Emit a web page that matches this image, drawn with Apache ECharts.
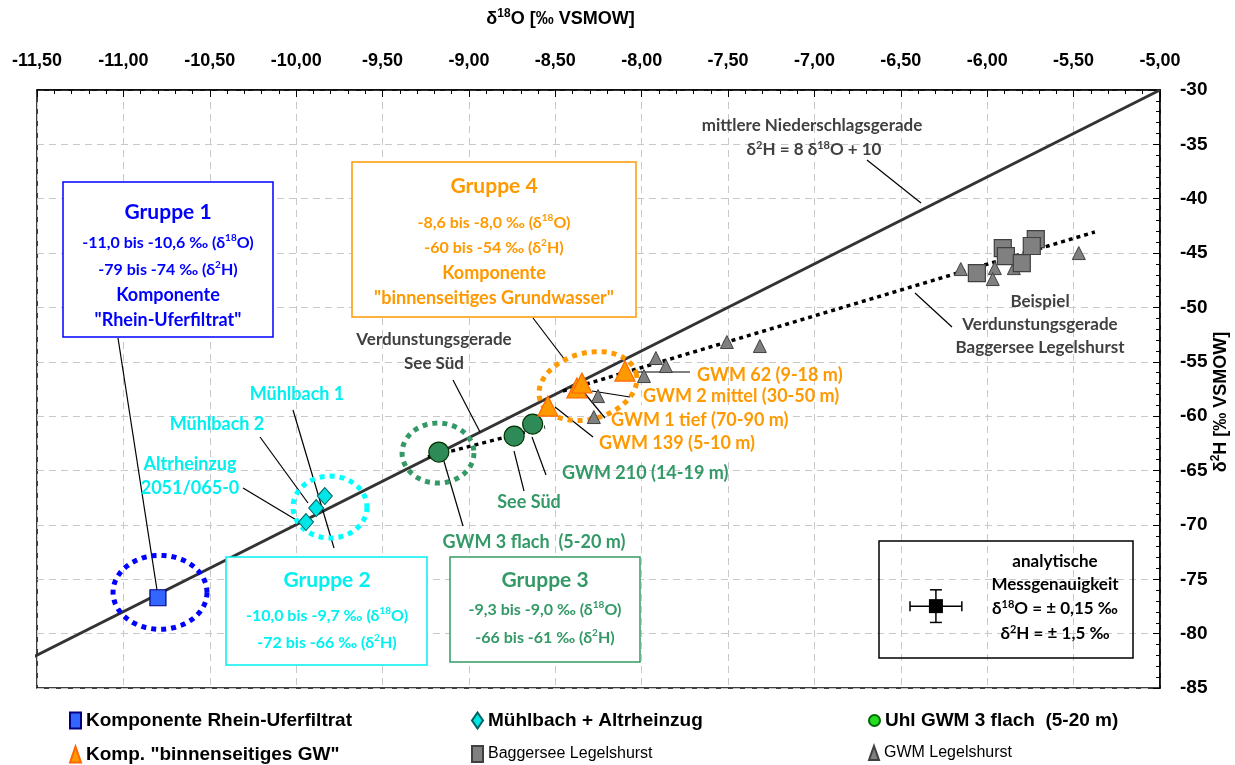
<!DOCTYPE html>
<html>
<head>
<meta charset="utf-8">
<script src="https://cdn.jsdelivr.net/npm/echarts@6/dist/echarts.min.js"></script>
<style>
  html, body { margin: 0; background: #fff; }
  #chart { width: 1235px; height: 765px; }
</style>
</head>
<body>
<div id="chart"></div>
<script>
var chart = echarts.init(document.getElementById('chart'));

var rheinUferfiltrat = [[-10.80, -76.7]];
var muehlbach = [[-9.943, -69.74], [-9.884, -68.45], [-9.834, -67.35]];
var gwm3flach = [[-9.174, -63.30], [-8.738, -61.83], [-8.631, -60.73]];
var binnenGW = [[-8.543, -59.07], [-8.375, -57.41], [-8.346, -56.95], [-8.097, -55.85]];
var baggersee = [[-6.060, -46.84], [-5.910, -44.54], [-5.892, -45.27], [-5.800, -45.92], [-5.719, -43.71], [-5.742, -44.35]];
var gwmLegelshurst = [
  [-8.253, -58.15], [-8.277, -60.08], [-7.987, -56.31], [-7.918, -54.65], [-7.860, -55.39],
  [-7.507, -53.18], [-7.316, -53.55], [-6.153, -46.47], [-5.956, -46.38], [-5.968, -47.39],
  [-5.846, -46.38], [-5.470, -45.0]
];
// lines
var niederschlagsgerade = [[-11.54, -82.3], [-5.0, -30.0]];
var verdunstungSeeSued = [[-9.237, -63.76], [-8.560, -61.0]];
var verdunstungBaggersee = [[-8.456, -57.69], [-5.377, -43.06]];
// analytical accuracy: x, y, ±δ18O, ±δ2H
var messgenauigkeit = [[-6.297, -77.47, 0.15, 1.5]];
// group ellipses: centre δ18O, centre δ2H, half width, half height
var gruppenEllipsen = [[-10.788, -76.2, 0.272, 3.4], [-9.804, -68.36, 0.214, 2.85], [-9.179, -63.39, 0.208, 2.76], [-8.311, -57.23, 0.289, 3.04]];

var ELLIPSE_COLORS = ['#0000ff', '#00ffff', '#339966', '#ff9900'];
var ELLIPSE_TILT = [0, 0, 0, -15];

var AX_FONT = 'Arial, "Liberation Sans", sans-serif';
var CAL = 'Lato, "Open Sans", sans-serif';

function sup(color, font, size) {
  return { fontSize: size || 11, fontWeight: 'bold', fontFamily: font || CAL, color: color, fill: color, padding: [0, 0, 10, 0] };
}

function txt(x, y, text, color, size, align, extra) {
  var st = {
    x: x, y: y, text: text, fill: color,
    font: 'bold ' + size + 'px ' + CAL,
    align: align || 'center', verticalAlign: 'middle',
    rich: { s: sup(color, CAL, Math.round(size * 0.65)) }
  };
  if (extra) Object.assign(st, extra);
  return { type: 'text', z: 5, style: st };
}
function lead(x1, y1, x2, y2) {
  return { type: 'line', z: 4, shape: { x1: x1, y1: y1, x2: x2, y2: y2 }, style: { stroke: '#000', lineWidth: 1.2 } };
}
function box(x1, y1, x2, y2, color, fill) {
  return { type: 'rect', z: 3, shape: { x: x1, y: y1, width: x2 - x1, height: y2 - y1 },
    style: { stroke: color, lineWidth: 1.5, fill: fill } };
}

var DG = '#404040', OR = '#ff9900', GR = '#339966', CY = '#00f0f0', BL = '#0000ff';

var graphics = [
  // group boxes
  box(63, 182, 273, 337, BL, '#fff'),
  txt(168, 212, 'Gruppe 1', BL, 21),
  txt(168, 243, '-11,0 bis -10,6 ‰ (δ{s|18}O)', BL, 16),
  txt(168, 270, '-79 bis -74 ‰ (δ{s|2}H)', BL, 16),
  txt(168, 295, 'Komponente', BL, 18),
  txt(168, 320, '"Rhein-Uferfiltrat"', BL, 18),
  box(352, 162, 636, 317, OR, '#fff'),
  txt(494, 186, 'Gruppe 4', OR, 21),
  txt(494, 223, '-8,6 bis -8,0 ‰ (δ{s|18}O)', OR, 16),
  txt(494, 248, '-60 bis -54 ‰ (δ{s|2}H)', OR, 16),
  txt(494, 273, 'Komponente', OR, 18),
  txt(494, 298, '"binnenseitiges Grundwasser"', OR, 18),
  box(226, 557, 427, 665, CY, '#fff'),
  txt(327, 580, 'Gruppe 2', CY, 21),
  txt(327, 616, '-10,0 bis -9,7 ‰ (δ{s|18}O)', CY, 16),
  txt(327, 643, '-72 bis -66 ‰ (δ{s|2}H)', CY, 16),
  box(450, 557, 640, 662, GR, '#fff'),
  txt(545, 580, 'Gruppe 3', GR, 21),
  txt(545, 610, '-9,3 bis -9,0 ‰ (δ{s|18}O)', GR, 16),
  txt(545, 638, '-66 bis -61 ‰ (δ{s|2}H)', GR, 16),
  box(879, 541, 1133, 658, '#000', null),
  txt(1055, 562, 'analytische', '#000', 17),
  txt(1055, 585, 'Messgenauigkeit', '#000', 17),
  txt(1055, 609, 'δ{s|18}O = ± 0,15 ‰', '#000', 17),
  txt(1055, 634, 'δ{s|2}H = ± 1,5 ‰', '#000', 17),
  // line annotations
  txt(812, 126, 'mittlere Niederschlagsgerade', DG, 17),
  txt(814, 150, 'δ{s|2}H = 8 δ{s|18}O + 10', DG, 17),
  lead(867, 160, 921, 203),
  txt(1040, 302, 'Beispiel', DG, 17),
  txt(1040, 325, 'Verdunstungsgerade', DG, 17),
  txt(1040, 348, 'Baggersee Legelshurst', DG, 17),
  lead(915, 293, 952, 327),
  txt(434, 340, 'Verdunstungsgerade', DG, 17),
  txt(434, 364, 'See Süd', DG, 17),
  lead(453, 380, 480, 432),
  lead(118, 338, 157, 590),
  lead(533, 318, 565, 360),
  // point labels
  txt(297, 394, 'Mühlbach 1', CY, 18),
  txt(217, 424, 'Mühlbach 2', CY, 18),
  txt(190, 464, 'Altrheinzug', CY, 18),
  txt(190, 488, '2051/065-0', CY, 18),
  lead(293, 410, 334, 548),
  lead(260, 437, 308, 503),
  lead(243, 488, 298, 521),
  txt(562, 473, 'GWM 210 (14-19 m)', GR, 18, 'left'),
  txt(529, 502, 'See Süd', GR, 18),
  txt(534, 542, 'GWM 3 flach  (5-20 m)', GR, 18),
  lead(532, 437, 546, 475),
  lead(514, 451, 524, 491),
  lead(443, 458, 463, 526),
  txt(697, 375, 'GWM 62 (9-18 m)', OR, 18, 'left'),
  txt(643, 396, 'GWM 2 mittel (30-50 m)', OR, 18, 'left'),
  txt(595, 443, 'GWM 139 (5-10 m)', OR, 18, 'left', { backgroundColor: '#fff', padding: [6, 4] }),
  txt(607, 420, 'GWM 1 tief (70-90 m)', OR, 18, 'left', { backgroundColor: '#fff', padding: [6, 4] }),
  lead(633, 372, 690, 372),
  lead(592, 391, 630, 397),
  lead(582, 390, 605, 418),
  lead(555, 407, 593, 437)
];

function legendAt(left, top, name, bold, size, icon) {
  return {
    left: left, top: top, selectedMode: false, itemWidth: icon ? icon[0] : 11, itemHeight: icon ? icon[1] : 16,
    data: [name],
    textStyle: { color: '#000', fontFamily: AX_FONT, fontWeight: bold ? 'bold' : 'normal', fontSize: size }
  };
}

var option = {
  backgroundColor: '#fff',
  animation: false,
  grid: { left: 37, right: 75, top: 90, bottom: 77, show: true, borderColor: '#000', borderWidth: 1.5,
    containLabel: false, outerBoundsMode: 'none' },
  xAxis: {
    type: 'value', position: 'top', min: -11.5, max: -5, interval: 0.5,
    name: 'δ{s|18}O [‰ VSMOW]', nameLocation: 'middle', nameGap: 60, nameMoveOverlap: false,
    nameTextStyle: { color: '#000', fontFamily: AX_FONT, fontWeight: 'bold', fontSize: 18, padding: [0, 76, 0, 0],
      rich: { s: sup('#000', AX_FONT, 12) } },
    axisLine: { lineStyle: { color: '#000', width: 1.5 } },
    axisTick: { inside: true, length: 7, lineStyle: { color: '#000' } },
    minorTick: { show: true, splitNumber: 5, length: 4, lineStyle: { color: '#000' } },
    axisLabel: { margin: 20, color: '#000', fontFamily: AX_FONT, fontWeight: 'bold', fontSize: 18,
      formatter: function (v) { return v.toFixed(2).replace('.', ','); } },
    splitLine: { show: true, lineStyle: { color: '#c8c8c8', type: [7, 5] } }
  },
  yAxis: {
    type: 'value', position: 'right', min: -85, max: -30, interval: 5,
    name: 'δ{s|2}H [‰ VSMOW]', nameLocation: 'middle', nameGap: 50, nameRotate: 90, nameMoveOverlap: false,
    nameTextStyle: { color: '#000', fontFamily: AX_FONT, fontWeight: 'bold', fontSize: 18, padding: [0, 26, 0, 0],
      rich: { s: sup('#000', AX_FONT, 12) } },
    axisLine: { lineStyle: { color: '#000', width: 1.5 } },
    axisTick: { inside: true, length: 7, lineStyle: { color: '#000' } },
    minorTick: { show: true, splitNumber: 5, length: 4, lineStyle: { color: '#000' } },
    axisLabel: { margin: 20, color: '#000', fontFamily: AX_FONT, fontWeight: 'bold', fontSize: 19 },
    splitLine: { show: true, lineStyle: { color: '#c8c8c8', type: [7, 5] } }
  },
  legend: [
    legendAt(64, 706, 'Komponente Rhein-Uferfiltrat', true, 19),
    legendAt(466, 706, 'Mühlbach + Altrheinzug', true, 19),
    Object.assign(legendAt(863, 706, 'Uhl GWM 3 flach  (5-20 m)', true, 19),
      { data: [{ name: 'Uhl GWM 3 flach  (5-20 m)', itemStyle: { color: '#22dd22', borderColor: '#006600' } }] }),
    legendAt(64, 740, 'Komp. "binnenseitiges GW"', true, 19),
    legendAt(466, 740, 'Baggersee Legelshurst', false, 16),
    legendAt(863, 740, 'GWM Legelshurst', false, 16, [10, 14])
  ],
  graphic: { elements: graphics },
  series: [
    {
      name: 'Niederschlagsgerade', type: 'line', data: niederschlagsgerade, clip: false,
      symbol: 'none', z: 1, lineStyle: { color: '#333', width: 3 }
    },
    {
      name: 'Verdunstung See Süd', type: 'line', data: verdunstungSeeSued, symbol: 'none', z: 1,
      lineStyle: { color: '#000', width: 3.5, type: [4, 4] }
    },
    {
      name: 'Verdunstung Baggersee', type: 'line', data: verdunstungBaggersee, symbol: 'none', z: 1,
      lineStyle: { color: '#000', width: 3.5, type: [4, 4] }
    },
    {
      name: 'Gruppen', type: 'custom', data: gruppenEllipsen, z: 6, silent: true,
      renderItem: function (params, api) {
        var c = api.coord([api.value(0), api.value(1)]);
        var s = api.size([api.value(2), api.value(3)]);
        var rot = ELLIPSE_TILT[params.dataIndex] * Math.PI / 180;
        var pts = [];
        for (var i = 0; i <= 80; i++) {
          var t = i / 80 * 2 * Math.PI;
          var ex = s[0] * Math.cos(t), ey = s[1] * Math.sin(t);
          pts.push([c[0] + ex * Math.cos(rot) - ey * Math.sin(rot), c[1] + ex * Math.sin(rot) + ey * Math.cos(rot)]);
        }
        return { type: 'polyline', shape: { points: pts },
          style: { stroke: ELLIPSE_COLORS[params.dataIndex], lineWidth: 5, lineDash: [5, 5], fill: null } };
      }
    },
    {
      name: 'GWM Legelshurst', type: 'scatter', data: gwmLegelshurst, symbol: 'triangle', symbolSize: 13, z: 7,
      itemStyle: { color: '#808080', borderColor: '#404040', borderWidth: 1, opacity: 1 }
    },
    {
      name: 'Baggersee Legelshurst', type: 'scatter', data: baggersee, symbol: 'rect', symbolSize: 17, z: 7,
      itemStyle: { color: '#808080', borderColor: '#404040', borderWidth: 1.2, opacity: 1 }
    },
    {
      name: 'Komponente Rhein-Uferfiltrat', type: 'scatter', data: rheinUferfiltrat, symbol: 'rect', symbolSize: 16, z: 8,
      itemStyle: { color: '#3366ff', borderColor: '#000080', borderWidth: 1.2, opacity: 1 }
    },
    {
      name: 'Mühlbach + Altrheinzug', type: 'scatter', data: muehlbach, symbol: 'diamond', symbolSize: [15, 17], z: 8,
      itemStyle: { color: '#00e5e5', borderColor: '#006060', borderWidth: 1, opacity: 1 }
    },
    {
      name: 'Uhl GWM 3 flach  (5-20 m)', type: 'scatter', data: gwm3flach, symbol: 'circle', symbolSize: 20, z: 8,
      itemStyle: { color: '#2e8b57', borderColor: '#003300', borderWidth: 1.2, opacity: 1 }
    },
    {
      name: 'Komp. "binnenseitiges GW"', type: 'scatter', data: binnenGW, symbol: 'triangle', symbolSize: 20, z: 8,
      itemStyle: { color: '#ff9900', borderColor: '#ff6600', borderWidth: 1.2, opacity: 1 }
    },
    {
      name: 'Messgenauigkeit', type: 'custom', data: messgenauigkeit, z: 8, silent: true,
      renderItem: function (params, api) {
        var c = api.coord([api.value(0), api.value(1)]);
        var s = api.size([api.value(2), api.value(3)]);
        var st = { stroke: '#000', lineWidth: 1.5 };
        return { type: 'group', children: [
          { type: 'line', shape: { x1: c[0] - s[0], y1: c[1], x2: c[0] + s[0], y2: c[1] }, style: st },
          { type: 'line', shape: { x1: c[0], y1: c[1] - s[1], x2: c[0], y2: c[1] + s[1] }, style: st },
          { type: 'line', shape: { x1: c[0] - s[0], y1: c[1] - 5, x2: c[0] - s[0], y2: c[1] + 5 }, style: st },
          { type: 'line', shape: { x1: c[0] + s[0], y1: c[1] - 5, x2: c[0] + s[0], y2: c[1] + 5 }, style: st },
          { type: 'line', shape: { x1: c[0] - 6, y1: c[1] - s[1], x2: c[0] + 6, y2: c[1] - s[1] }, style: st },
          { type: 'line', shape: { x1: c[0] - 6, y1: c[1] + s[1], x2: c[0] + 6, y2: c[1] + s[1] }, style: st },
          { type: 'rect', shape: { x: c[0] - 7, y: c[1] - 7, width: 14, height: 14 }, style: { fill: '#000' } }
        ] };
      }
    }
  ]
};

chart.setOption(option);
</script>
</body>
</html>
